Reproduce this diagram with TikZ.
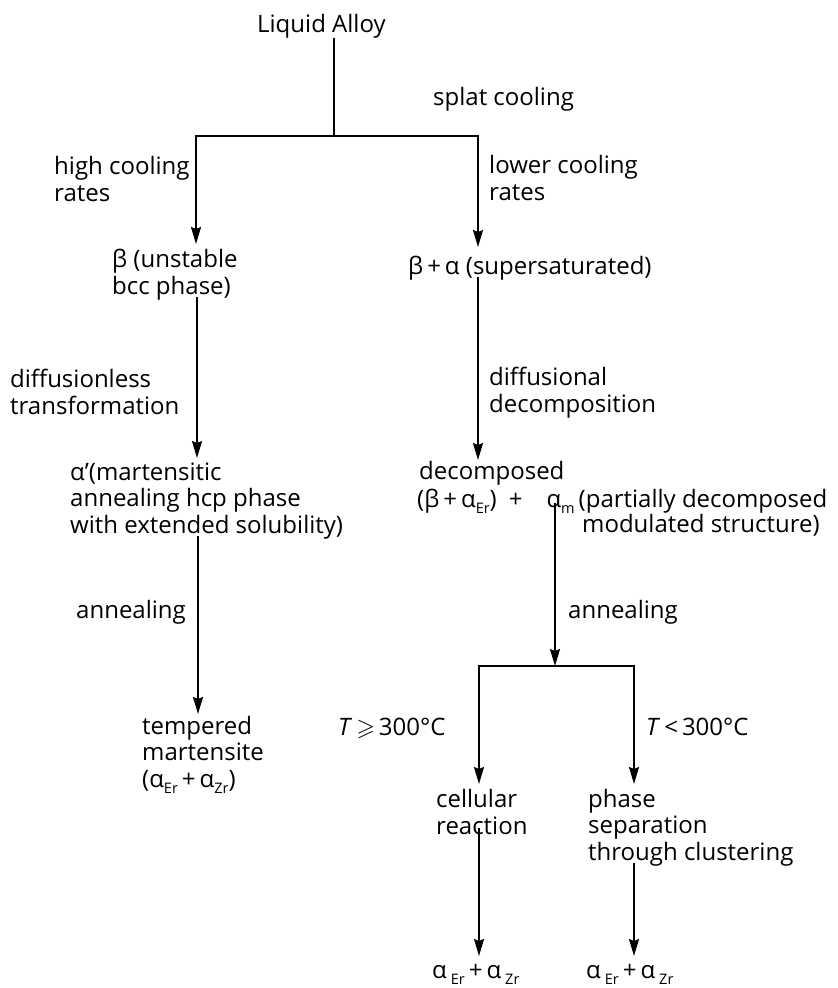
\documentclass[tikz,border=0pt]{standalone}
\usepackage{amssymb}
\usepackage{fontspec}
\setmainfont{Open Sans}
\usetikzlibrary{arrows.meta}
\newcommand{\sbs}[1]{\raisebox{-6pt}{\fontsize{14.5}{14.5}\selectfont #1}}
\begin{document}
\begin{tikzpicture}[x=1pt,y=-1pt,
  lbl/.style={anchor=base west,inner sep=0pt,align=left,font=\fontsize{24}{26.5}\selectfont},
  ln/.style={line width=1.8pt},
  arr/.style={line width=1.8pt,-{Stealth[length=17pt,width=10pt,inset=2pt]}}]
\useasboundingbox (0,0) rectangle (838,988);
% text nodes (multi-line nodes are placed at the baseline of their last line)
\node[lbl] (liq) at (257,32) {Liquid Alloy};
\node[lbl] (splat) at (433,105) {splat cooling};
\node[lbl] (high) at (54,201) {high cooling\\rates};
\node[lbl] (lower) at (489,200) {lower cooling\\rates};
\node[lbl] (beta) at (112,294) {β (unstable\\bcc phase)};
\node[lbl] (ba) at (408,274) {β\,+\,α (supersaturated)};
\node[lbl] (dless) at (10,414) {diffusionless\\transformation};
\node[lbl] (dal) at (489,412) {diffusional\\decomposition};
\node[lbl] (ap) at (70,533) {α’(martensitic\\annealing hcp phase\\with extended solubility)};
\node[lbl] (dec1) at (419,479) {decomposed};
\node[lbl] (dec2) at (417,507) {(β\,+\,α\sbs{Er})\enspace+\quad α\sbs{m}\,(partially decomposed};
\node[lbl] (dec3) at (582,532) {modulated structure)};
\node[lbl] (ann1) at (76,618) {annealing};
\node[lbl] (ann2) at (568,618) {annealing};
\node[lbl] (temp) at (142,787) {tempered\\martensite\\(α\sbs{Er}\,+\,α\sbs{Zr})};
\node[lbl] (tge) at (338,735) {\textit{T}\,$\geqslant$\,300°C};
\node[lbl] (tlt) at (646,735) {\textit{T}\,<\,300°C};
\node[lbl] (cell) at (436,834) {cellular\\reaction};
\node[lbl] (phase) at (588,860) {phase\\separation\\through clustering};
\node[lbl] (bot1) at (432,978) {α\,\sbs{Er}\,+\,α\,\sbs{Zr}};
\node[lbl] (bot2) at (586,978) {α\,\sbs{Er}\,+\,α\,\sbs{Zr}};
% junctions and arrow tips
\coordinate (j0) at (334,136);
\coordinate (tB) at (196,244);
\coordinate (tBA) at (478,247);
\coordinate (tAp) at (197,458);
\coordinate (tDec) at (478,460);
\coordinate (tTemp) at (198,714);
\coordinate (jB) at (555,666);
\coordinate (tCell) at (479,784);
\coordinate (tPh) at (634,784);
\coordinate (tB1) at (479,956);
\coordinate (tB2) at (634,956);
% connectors
\draw[ln] (j0 |- liq.south) -- (j0);
\draw[arr] (j0) -| (tB);
\draw[arr] (j0) -| (tBA);
\draw[arr] ([yshift=3pt]tAp |- beta.south) -- (tAp);
\draw[arr] ([yshift=3pt]tDec |- ba.south) -- (tDec);
\draw[arr] ([yshift=3pt]tTemp |- ap.south) -- (tTemp);
\draw[arr] ([yshift=4pt]jB |- dec2.base) -- (jB);
\draw[arr] (jB) -| (tCell);
\draw[arr] (jB) -| (tPh);
\draw[arr] ([yshift=6pt]tB1 |- cell.south) -- (tB1);
\draw[arr] ([yshift=3pt]tB2 |- phase.south) -- (tB2);
\end{tikzpicture}
\end{document}
